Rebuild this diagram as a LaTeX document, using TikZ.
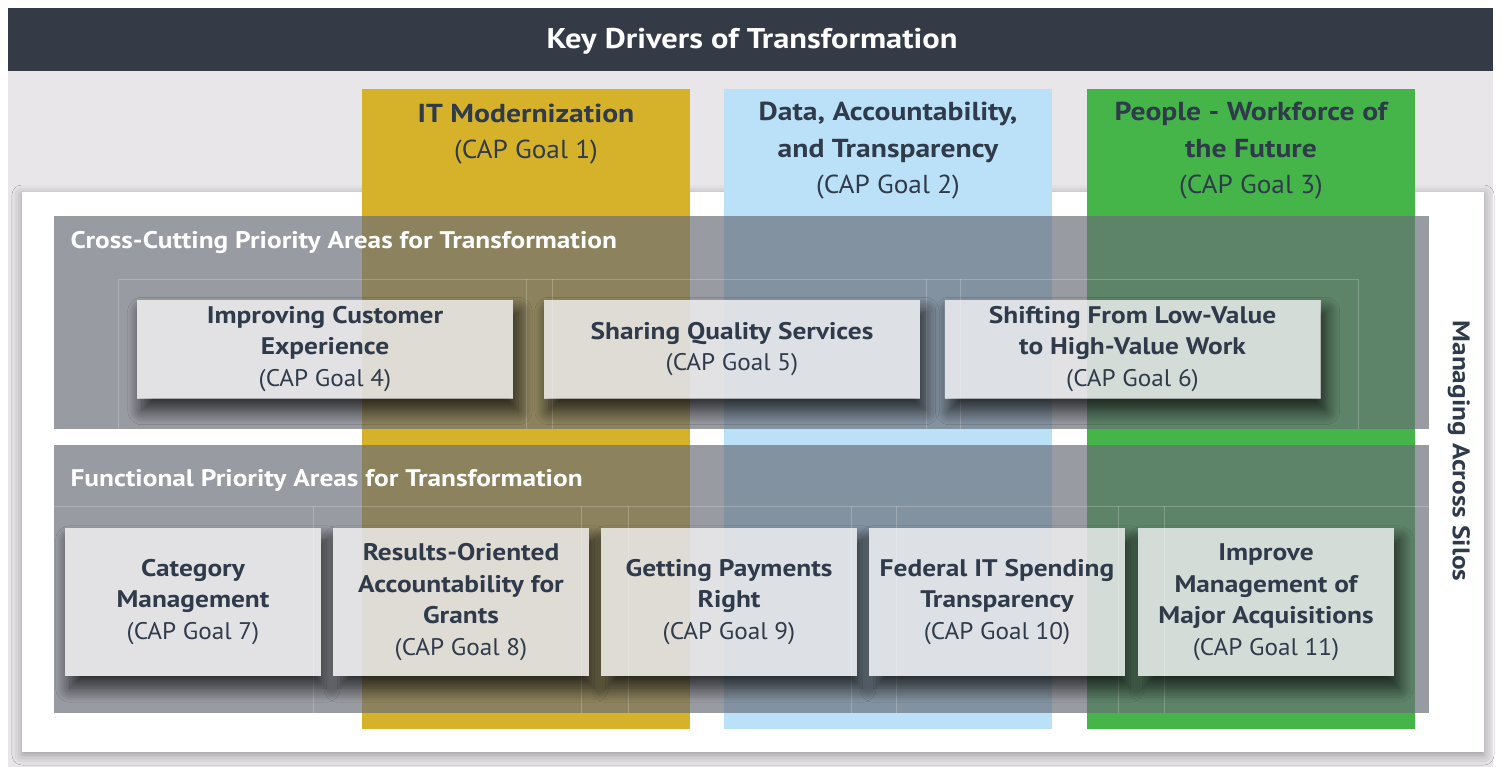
\documentclass[tikz,border=0pt]{standalone}
\usepackage{fontspec}
\setmainfont{PT Sans}[UprightFeatures={FakeStretch=1.05}, BoldFeatures={FakeStretch=1.14}]
\usetikzlibrary{shadows.blur}
\definecolor{bgc}{HTML}{E8E6E9}
\definecolor{hdr}{HTML}{343A46}
\definecolor{txt}{HTML}{2F3A4A}
\definecolor{ylw}{HTML}{D6B22A}
\definecolor{blu}{HTML}{BBE1F8}
\definecolor{grn}{HTML}{46B549}
\definecolor{bandc}{RGB}{105,108,119}
\definecolor{cardc}{RGB}{249,248,250}
\begin{document}
\begin{tikzpicture}[x=1pt,y=-1pt,
  coltitle/.style={text=txt, align=center, font=\fontsize{26}{36.5}\selectfont},
  bandbox/.style={fill=bandc, fill opacity=.675},
  bandtitle/.style={text=white, anchor=west, font=\bfseries\fontsize{24}{28}\selectfont},
  card/.style={inner sep=0pt, fill=cardc, fill opacity=.77, text opacity=1, text=txt, align=center, font=\fontsize{24}{31.5}\selectfont},
  cardshadow/.style={blur shadow={shadow xshift=5pt, shadow yshift=-12pt, shadow blur radius=14pt, shadow blur steps=14, shadow opacity=72}},
  faint/.style={draw=white, draw opacity=.22, line width=.8pt}]
\useasboundingbox (0,0) rectangle (1501,767);
\fill[white] (0,0) rectangle (1501,767);
\fill[bgc] (8,8) rectangle (1493,767);
\fill[hdr] (8,8) rectangle (1493,71);
\node[text=white, font=\bfseries\fontsize{28.5}{32}\selectfont] (title) at (752,41.5) {Key Drivers of Transformation};
% white panel
\path[fill=white, blur shadow={shadow xshift=0pt, shadow yshift=-3pt, shadow blur radius=10pt, shadow opacity=35}] (22,192) rectangle (1484,752);
% columns
\fill[ylw] (362,89) rectangle (690,729);
\fill[blu] (724,89) rectangle (1052,729);
\fill[grn] (1087,89) rectangle (1415,729);
\node[coltitle] (col1) at (526,134) {\bfseries IT Modernization\\(CAP Goal 1)};
\node[coltitle] (col2) at (888,151) {\bfseries Data, Accountability,\\\bfseries and Transparency\\(CAP Goal 2)};
\node[coltitle] (col3) at (1251,151) {\bfseries People - Workforce of\\\bfseries the Future\\(CAP Goal 3)};
% bands
\fill[bandbox] (54,216) rectangle (1429,429);
\fill[bandbox] (54,445) rectangle (1429,713);
\node[bandtitle] (band1) at (67,242) {Cross-Cutting Priority Areas for Transformation};
\node[bandtitle] (band2) at (67,480) {Functional Priority Areas for Transformation};
% faint layout lines
\draw[faint] (118,429) -- (118,279) -- (1358,279) -- (1358,429);
\foreach \xx in {526,552,926,960} \draw[faint] (\xx,279) -- (\xx,429);
\draw[faint] (54,506) -- (1429,506);
\foreach \xx in {313,581,628,851,896,1118,1164} \draw[faint] (\xx,506) -- (\xx,713);
% cards
\node[card, minimum width=376pt, minimum height=99pt] (c4) at (325,349) {\bfseries Improving Customer\\\bfseries Experience\\(CAP Goal 4)};
\node[card, minimum width=376pt, minimum height=99pt] (c5) at (732,349) {\bfseries Sharing Quality Services\\(CAP Goal 5)};
\node[card, minimum width=376pt, minimum height=99pt] (c6) at (1132.5,349) {\bfseries Shifting From Low-Value\\\bfseries to High-Value Work\\(CAP Goal 6)};
\node[card, minimum width=256pt, minimum height=148pt] (c7) at (193,602) {\bfseries Category\\\bfseries Management\\(CAP Goal 7)};
\node[card, minimum width=256pt, minimum height=148pt] (c8) at (461,602) {\bfseries Results-Oriented\\\bfseries Accountability for\\\bfseries Grants\\(CAP Goal 8)};
\node[card, minimum width=256pt, minimum height=148pt] (c9) at (729,602) {\bfseries Getting Payments\\\bfseries Right\\(CAP Goal 9)};
\node[card, minimum width=256pt, minimum height=148pt] (c10) at (997,602) {\bfseries Federal IT Spending\\\bfseries Transparency\\(CAP Goal 10)};
\node[card, minimum width=256pt, minimum height=148pt] (c11) at (1266,602) {\bfseries Improve\\\bfseries Management of\\\bfseries Major Acquisitions\\(CAP Goal 11)};
% shadows outside cards only
\begin{scope}[even odd rule]
\clip (0,0) rectangle (1501,767)
  (c4.south west) rectangle (c4.north east)
  (c5.south west) rectangle (c5.north east)
  (c6.south west) rectangle (c6.north east)
  (c7.south west) rectangle (c7.north east)
  (c8.south west) rectangle (c8.north east)
  (c9.south west) rectangle (c9.north east)
  (c10.south west) rectangle (c10.north east)
  (c11.south west) rectangle (c11.north east);
\foreach \cc in {c4,c5,c6,c7,c8,c9,c10,c11}
  \path[cardshadow] (\cc.south west) rectangle (\cc.north east);
\end{scope}
\node[rotate=-90, text=txt, font=\bfseries\fontsize{24}{28}\selectfont] (silos) at (1459,451) {Managing Across Silos};
\end{tikzpicture}
\end{document}
